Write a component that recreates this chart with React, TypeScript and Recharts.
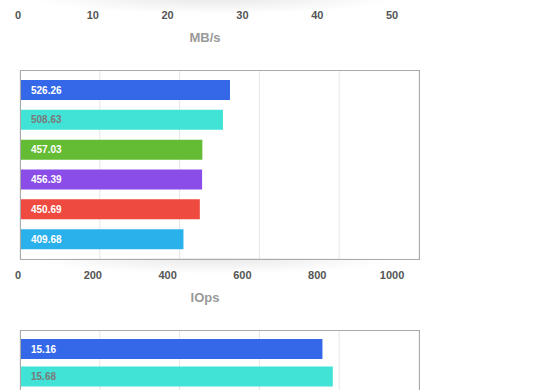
import { BarChart, Bar, XAxis, YAxis, CartesianGrid, Cell, LabelList } from 'recharts';

// hidden row keys (the reference shows no category names)
const runs = ['r1', 'r2', 'r3', 'r4', 'r5', 'r6'];
const iops = [526.26, 508.63, 457.03, 456.39, 450.69, 409.68];
const latencyRuns = ['r1', 'r2'];
const latency = [15.16, 15.68];

const barColors = ['#3468e8', '#40e3d6', '#64bb34', '#8b4de8', '#ef4a40', '#2ab0ea'];
const labelColors = ['#ffffff', '#7a7a7a', '#ffffff', '#ffffff', '#ffffff', '#ffffff'];

const mbTicks = [0, 10, 20, 30, 40, 50];
const iopsTicks = [0, 200, 400, 600, 800, 1000];
const latencyTicks = [0, 4, 8, 12, 16, 20];

const FONT = '"Liberation Sans", Arial, Helvetica, sans-serif';

const iopsData = runs.map((name, i) => ({ name, value: iops[i] }));
const latencyData = latencyRuns.map((name, i) => ({ name, value: latency[i] }));
// MB/s chart sits above the view: only its axis shows, so its rows carry no values
const mbRows = runs.map((name) => ({ name }));

// tick labels sit on a slightly narrower scale than the grid (as in the original)
const AxisTick = (props: any) => {
  const { x, y, payload } = props;
  return (
    <text x={18 + (x - 20) * 0.9375} y={y + 20} textAnchor="middle" fill="#555" fontSize={11} fontWeight="bold" fontFamily={FONT}>
      {payload.value}
    </text>
  );
};

const axisTitle = (title: string) => (props: any) => {
  const vb = props.viewBox;
  return (
    <text x={18 + (vb.width / 2) * 0.9375} y={vb.y + 43} textAnchor="middle" fill="#999" fontSize={13} fontWeight="bold" fontFamily={FONT}>
      {title}
    </text>
  );
};

const BarValue = (props: any) => {
  const vb = props.viewBox ?? props;
  const idx = props.index ?? 0;
  if (props.value == null) return null;
  return (
    <text x={vb.x + 11} y={vb.y + vb.height / 2} dominantBaseline="central" fill={labelColors[idx]} fontSize={10} fontWeight="bold" fontFamily={FONT}>
      {props.value}
    </text>
  );
};

function Frame({ top, height }: { top: number; height: number }) {
  return (
    <>
      <div
        style={{
          position: 'absolute',
          left: 30,
          top: top + height - 2,
          width: 370,
          height: 16,
          background: 'radial-gradient(ellipse 50% 100% at 50% 0%, rgba(0,0,0,0.09), rgba(0,0,0,0) 100%)',
          pointerEvents: 'none',
        }}
      />
      <div
        style={{
          position: 'absolute',
          left: 20,
          top,
          width: 400,
          height,
          border: '1px solid #aaa',
          boxSizing: 'border-box',
          pointerEvents: 'none',
        }}
      />
    </>
  );
}

function HBarChart({ data, domain, ticks, title, top, height, plotHeight, showAxis }: any) {
  const bottom = height - 70 - plotHeight - (showAxis ? 40 : 0);
  return (
    <div style={{ position: 'absolute', left: 0, top }}>
      <BarChart width={560} height={height} data={data} layout="vertical" margin={{ top: 70, right: 141, left: 20, bottom }}>
        <CartesianGrid horizontal={false} stroke="#e6e6e6" />
        <XAxis
          type="number"
          domain={domain}
          ticks={ticks}
          allowDataOverflow
          axisLine={false}
          tickLine={false}
          tickSize={0}
          tickMargin={0}
          height={40}
          hide={!showAxis}
          tick={<AxisTick />}
          label={title ? { content: axisTitle(title) } : undefined}
        />
        <YAxis type="category" dataKey="name" hide padding={{ top: 5, bottom: 5 }} />
        <Bar dataKey="value" barSize={20} isAnimationActive={false}>
          {data.map((_: any, i: number) => (
            <Cell key={i} fill={barColors[i]} />
          ))}
          <LabelList dataKey="value" content={<BarValue />} />
        </Bar>
      </BarChart>
    </div>
  );
}

export default function App() {
  return (
    <div style={{ position: 'absolute', left: 0, top: 0, width: 560, height: 390, overflow: 'hidden', background: '#fff' }}>
      <HBarChart data={mbRows} domain={[0, 50]} ticks={mbTicks} title="MB/s" top={-260} height={320} plotHeight={189} showAxis />
      <Frame top={-190} height={190} />

      <HBarChart data={iopsData} domain={[0, 1000]} ticks={iopsTicks} title="IOps" top={0} height={320} plotHeight={189} showAxis />
      <Frame top={70} height={190} />

      <HBarChart data={latencyData} domain={[0, 20]} ticks={latencyTicks} title="" top={260} height={135} plotHeight={65} showAxis={false} />
      <Frame top={330} height={120} />
    </div>
  );
}
